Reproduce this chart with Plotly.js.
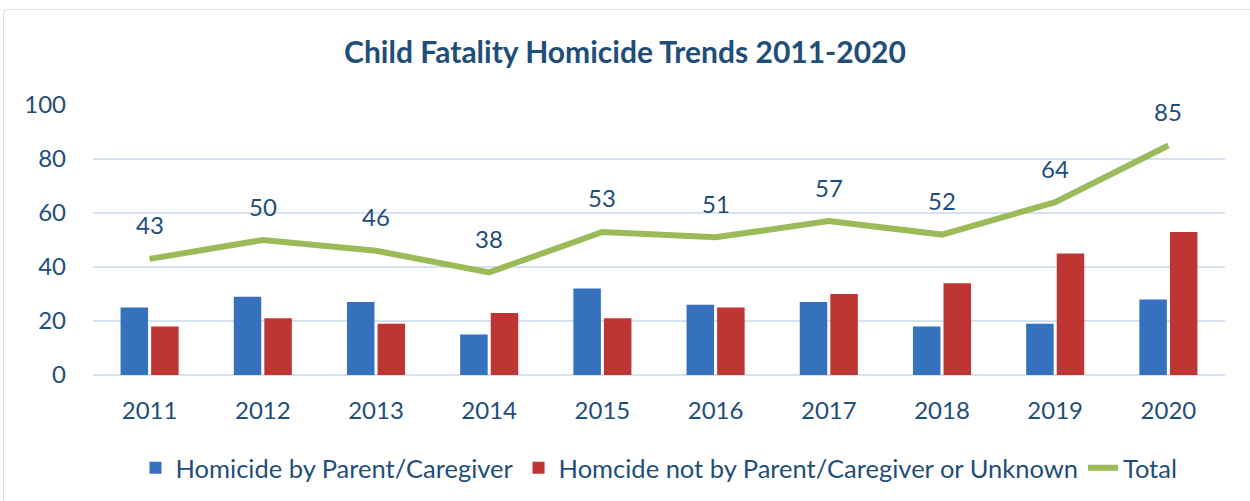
<!DOCTYPE html>
<html><head><meta charset="utf-8">
<script src="https://cdn.plot.ly/plotly-3.0.1.min.js"></script>
<style>
body{margin:0;padding:0;background:#fff;}
#wrap{position:relative;width:1250px;height:501px;overflow:hidden;}
#chart{width:1250px;height:501px;}
#frame{position:absolute;left:3px;top:9px;width:1260px;height:500px;border:1.5px solid #D6E2F0;border-radius:4px;pointer-events:none;}
</style></head>
<body>
<div id="wrap"><div id="chart"></div><div id="frame"></div></div>
<script>
const years = ['2011','2012','2013','2014','2015','2016','2017','2018','2019','2020'];
const byParent = [25, 29, 27, 15, 32, 26, 27, 18, 19, 28];
const notByParent = [18, 21, 19, 23, 21, 25, 30, 34, 45, 53];
const total = [43, 50, 46, 38, 53, 51, 57, 52, 64, 85];
const yTicks = [0, 20, 40, 60, 80, 100];

const txt = '#1F4E79';
const font = 'Lato, "Open Sans", sans-serif';

const traces = [
  {type:'bar', name:'Homicide by Parent/Caregiver', x:years, y:byParent,
   marker:{color:'#3671BD'}},
  {type:'bar', name:'Homcide not by Parent/Caregiver or Unknown', x:years, y:notByParent,
   marker:{color:'#BE3633'}},
  {type:'scatter', mode:'lines', name:'Total', x:years, y:total,
   line:{color:'#9BBB59', width:6}}
];

const annotations = years.map((yr, i) => ({
  x: i, y: total[i], xref:'x', yref:'y', text: String(total[i]), showarrow:false,
  yshift: 34, font:{family:font, size:24, color:txt}
}));

const layout = {
  width:1250, height:501,
  margin:{l:93, r:25, t:105, b:126, autoexpand:false},
  paper_bgcolor:'#ffffff', plot_bgcolor:'#ffffff',
  title:{text:'<b>Child Fatality Homicide Trends 2011-2020</b>', x:0.5, xanchor:'center', y:0.896, yanchor:'middle',
         font:{family:font, size:30, color:txt}},
  barmode:'group', bargap:0.46, bargroupgap:0.1,
  xaxis:{type:'category', range:[-0.5, 9.5], autorange:false, tickfont:{family:font, size:24, color:txt}, showgrid:false,
         showline:false, ticks:'', ticklen:0, ticklabelstandoff:19, automargin:false},
  yaxis:{range:[0,100], autorange:false, tickvals:yTicks, tickfont:{family:font, size:24, color:txt},
         gridcolor:'#D6E2F0', gridwidth:1.5, zeroline:true, zerolinecolor:'#D6E2F0', zerolinewidth:1.5,
         showline:false, ticks:'', ticklabelstandoff:26, automargin:false},
  legend:{orientation:'h', x:0.5, xanchor:'center', y:-0.345, yanchor:'middle',
          font:{family:font, size:25.5, color:txt}, traceorder:'normal', itemwidth:30},
  annotations: annotations,
  showlegend:true
};

Plotly.newPlot('chart', traces, layout, {displayModeBar:false, staticPlot:true});
</script>
</body></html>
